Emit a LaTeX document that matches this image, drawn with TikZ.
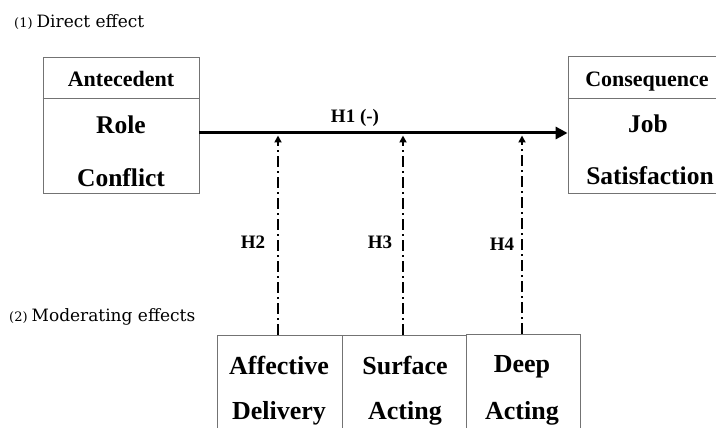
\documentclass[tikz,border=0pt]{standalone}
\usepackage{fontspec}
\setmainfont{Latin Modern Roman}
\newfontfamily\boxfont{Liberation Serif}
\newfontfamily\headfont{DejaVu Serif}
\usetikzlibrary{arrows.meta}
\begin{document}
\begin{tikzpicture}[x=1pt,y=-1pt,
  boxshape/.style={draw=black!55, line width=0.8pt, inner sep=0pt},
  hdtext/.style={anchor=base, inner sep=0pt, font=\boxfont\bfseries\fontsize{22}{26}\selectfont},
  bigtext/.style={anchor=base, inner sep=0pt, font=\boxfont\bfseries\fontsize{25.5}{30}\selectfont},
  bottext/.style={anchor=base, inner sep=0pt, font=\boxfont\bfseries\fontsize{26}{30}\selectfont},
  hlabel/.style={anchor=base, inner sep=0pt, font=\boxfont\bfseries\fontsize{19}{22}\selectfont},
  section/.style={anchor=base west, inner sep=0pt, font=\headfont\fontsize{17}{20}\selectfont},
  mainarrow/.style={line width=3pt, -{Triangle[length=12pt,width=12pt]}},
  modarrow/.style={line width=1.8pt, dash pattern=on 11pt off 4pt on 2pt off 4pt, -{Triangle[length=7pt,width=7pt]}}]
\useasboundingbox (0,0) rectangle (716,428);
% section headings
\node[section] (s1) at (14,28) {{\fontsize{13}{14}\selectfont(1)}\hspace{4pt}Direct effect};
\node[section] (s2) at (9,321) {{\fontsize{13}{14}\selectfont(2)}\hspace{4pt}Moderating effects};
% antecedent box
\node[boxshape, minimum width=156pt, minimum height=136pt] (ant) at (121,125) {};
\draw[draw=black!55, line width=0.8pt] (ant.west |- 0,98) -- (ant.east |- 0,98);
\node[hdtext] (antt) at (121,87) {Antecedent};
\node[bigtext] (role) at (121,134) {Role};
\node[bigtext] (confl) at (121,186.5) {Conflict};
% consequence box
\node[boxshape, minimum width=158pt, minimum height=137pt] (con) at (647,124.5) {};
\draw[draw=black!55, line width=0.8pt] (con.west |- 0,98) -- (con.east |- 0,98);
\node[hdtext] (cont) at (647,86.7) {Consequence};
\node[bigtext] (job) at (648,133) {Job};
\node[bigtext] (sat) at (650,185) {Satisfaction};
% main arrow
\coordinate (h1line) at (0,133);
\draw[mainarrow] (ant.east |- h1line) -- (con.west |- h1line);
\node[hlabel] (h1) at (355,123) {H1 (-)};
% moderator boxes
\node[boxshape, minimum width=125pt, minimum height=105pt] (aff) at (279.5,387.5) {};
\node[boxshape, minimum width=124pt, minimum height=105pt] (surf) at (404,387.5) {};
\node[boxshape, minimum width=114pt, minimum height=106pt] (deep) at (523,387) {};
\node[bottext] (afft) at (279,374) {Affective};
\node[bottext] (affb) at (279,419) {Delivery};
\node[bottext] (surft) at (405,374) {Surface};
\node[bottext] (surfb) at (405,419) {Acting};
\node[bottext] (deept) at (522,372) {Deep};
\node[bottext] (deepb) at (522,419) {Acting};
% moderating arrows
\coordinate (tipline) at (0,135.5);
\draw[modarrow] (278,334.6) coordinate (a2) -- (a2 |- tipline);
\draw[modarrow] (403,334.6) coordinate (a3) -- (a3 |- tipline);
\draw[modarrow] (522,334) coordinate (a4) -- (a4 |- tipline);
\node[hlabel] (h2) at (253,248) {H2};
\node[hlabel] (h3) at (380,248) {H3};
\node[hlabel] (h4) at (502,251) {H4};
\end{tikzpicture}
\end{document}
